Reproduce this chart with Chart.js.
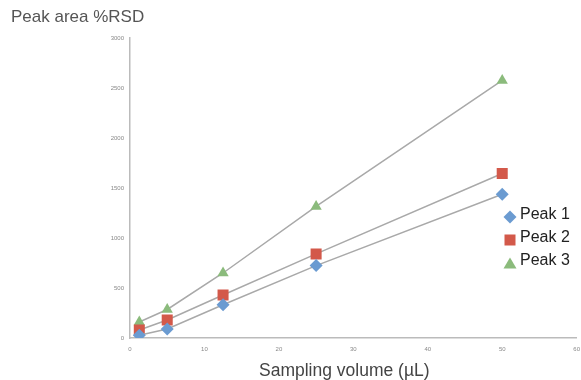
<!DOCTYPE html>
<html>
<head>
<meta charset="utf-8">
<script src="https://cdn.jsdelivr.net/npm/chart.js@4"></script>
<style>
  body { margin: 0; background: #fff; overflow: hidden; }
  #wrap { position: relative; width: 581px; height: 380px; overflow: hidden; }
  .lbl { position: absolute; font-family: Arial, "Liberation Sans", sans-serif; color: #555; white-space: nowrap; }
  #ytitle { left: 11px; top: 7px; font-size: 17px; }
  #xtitle { left: 259px; top: 360px; font-size: 17.5px; color: #444; }
  #legend { position: absolute; left: 503px; top: 202px; font-family: Arial, "Liberation Sans", sans-serif; font-size: 16px; color: #222; }
  #legend div { height: 23px; line-height: 23px; display: flex; align-items: center; }
  #legend span.m { width: 14px; height: 14px; margin-right: 3px; display: inline-block; position: relative; }
</style>
</head>
<body>
<div id="wrap">
  <canvas id="chart" width="585" height="380"></canvas>
  <div class="lbl" id="ytitle">Peak area %RSD</div>
  <div class="lbl" id="xtitle">Sampling volume (µL)</div>
  <div id="legend"></div>
</div>
<script>
// Sampling volumes (µL)
const volumes = [1.25, 5, 12.5, 25, 50];
const peak1 = [27, 90, 333, 724, 1437];
const peak2 = [80, 180, 430, 841, 1645];
const peak3 = [160, 285, 650, 1316, 2576];

const seriesNames = ['Peak 1', 'Peak 2', 'Peak 3'];
const colors = {
    p1: '#6b9bd1', // blue diamond
    p2: '#d3594a', // red square
    p3: '#8bbb7c'  // green triangle
};

function toPoints(ys) {
    return volumes.map((v, i) => ({ x: v, y: ys[i] }));
}

function makeSet(label, ys, color, style, radius) {
    return {
        label: label,
        data: toPoints(ys),
        showLine: true,
        borderColor: '#a9a9a9',
        borderWidth: 1.5,
        pointStyle: style,
        pointRadius: radius,
        pointBackgroundColor: color,
        pointBorderColor: color,
        pointBorderWidth: 0
    };
}

new Chart(document.getElementById('chart').getContext('2d'), {
    type: 'scatter',
    data: {
        datasets: [
            makeSet(seriesNames[0], peak1, colors.p1, 'rectRot', 6.5),
            makeSet(seriesNames[1], peak2, colors.p2, 'rect', 7.8),
            makeSet(seriesNames[2], peak3, colors.p3, 'triangle', 6.5)
        ]
    },
    options: {
        responsive: false,
        animation: false,
        layout: { padding: { top: 38, right: 0, bottom: 0, left: 0 } },
        plugins: { legend: { display: false }, tooltip: { enabled: false } },
        scales: {
            x: {
                type: 'linear',
                min: 0, max: 60,
                ticks: { stepSize: 10, color: '#888', font: { size: 6 }, padding: 5, callback: (v) => String(v) },
                grid: { display: false, drawTicks: true, tickLength: 3, tickColor: '#bbb' },
                border: { color: '#bbb', width: 1.5 },
                afterFit: (s) => { s.height = 42; }
            },
            y: {
                min: 0, max: 3000,
                ticks: { stepSize: 500, color: '#888', font: { size: 6 }, padding: 3, callback: (v) => String(v) },
                grid: { display: false, drawTicks: true, tickLength: 3, tickColor: '#bbb' },
                border: { color: '#bbb', width: 1.5 },
                afterFit: (s) => { s.width = 130; }
            }
        }
    }
});

// legend overlaid on the plot, like the original
const legend = document.getElementById('legend');
const markers = [
    `<svg width="14" height="14"><polygon points="7,0.5 13.5,7 7,13.5 0.5,7" fill="${colors.p1}"/></svg>`,
    `<svg width="14" height="14"><rect x="1.5" y="1.5" width="11" height="11" fill="${colors.p2}"/></svg>`,
    `<svg width="14" height="14"><polygon points="7,1.5 13.5,12.5 0.5,12.5" fill="${colors.p3}"/></svg>`
];
seriesNames.forEach((name, i) => {
    const row = document.createElement('div');
    row.innerHTML = `<span class="m">${markers[i]}</span>${name}`;
    legend.appendChild(row);
});
</script>
</body>
</html>
